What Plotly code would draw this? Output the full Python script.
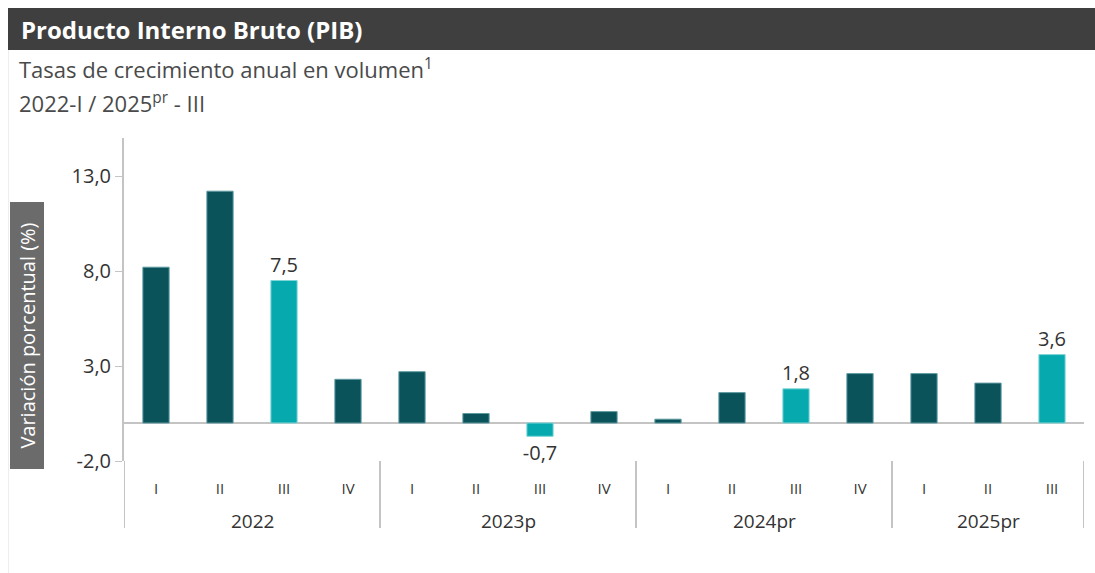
import plotly.graph_objects as go

years = ["2022"] * 4 + ["2023p"] * 4 + ["2024pr"] * 4 + ["2025pr"] * 3
quarters = ["I", "II", "III", "IV", "I", "II", "III", "IV", "I", "II", "III", "IV", "I", "II", "III"]
values = [8.2, 12.2, 7.5, 2.3, 2.7, 0.5, -0.7, 0.6, 0.2, 1.6, 1.8, 2.6, 2.6, 2.1, 3.6]
y_ticks = [-2, 3, 8, 13]
highlight_quarter = "III"

DARK = "#0a535b"
LIGHT = "#06a9ad"
colors = [LIGHT if q == highlight_quarter else DARK for q in quarters]
line_colors = ["#7fd6d9" if q == highlight_quarter else "#5f9aa0" for q in quarters]

def fmt(v):
    return f"{v:.1f}".replace(".", ",")

labels = [fmt(v) if q == highlight_quarter else "" for v, q in zip(values, quarters)]
xs = list(range(len(values)))

# year groups (first / last index)
groups = []
for i, yv in enumerate(years):
    if not groups or groups[-1][0] != yv:
        groups.append([yv, i, i])
    else:
        groups[-1][2] = i

W, H = 1095, 573
L, R, T, B = 124, 11, 138, 112
pw, ph = W - L - R, H - T - B

def px(x):
    return (x - L) / pw

def py(y):
    return (H - B - y) / ph

fig = go.Figure()
fig.add_trace(go.Bar(
    x=xs, y=values,
    marker=dict(color=colors, line=dict(color=line_colors, width=1)),
    text=labels, textposition="outside", cliponaxis=False, constraintext="none",
    textfont=dict(family="Open Sans", size=20, color="#333333"),
    width=0.41, hoverinfo="skip",
))

shapes = [
    dict(type="rect", xref="paper", yref="paper",
         x0=px(8), x1=px(W + 5), y0=py(50), y1=py(8),
         fillcolor="#3f3f3f", line=dict(width=0), layer="above"),
    dict(type="line", xref="paper", yref="paper",
         x0=px(8.5), x1=px(8.5), y0=py(50), y1=py(H),
         line=dict(color="#eeeeee", width=1)),
]
annotations = [
    dict(text="<b>Producto Interno Bruto (PIB)</b>", xref="paper", yref="paper",
         x=px(19), y=py(30), xanchor="left", yanchor="middle", showarrow=False,
         font=dict(family="Open Sans", size=24, color="white")),
    dict(text="Tasas de crecimiento anual en volumen<sup>1</sup>", xref="paper", yref="paper",
         x=px(17), y=py(69), xanchor="left", yanchor="middle", showarrow=False,
         font=dict(family="Open Sans", size=22, color="#4a4a4a")),
    dict(text="2022-I / 2025<sup>pr</sup> - III", xref="paper", yref="paper",
         x=px(17), y=py(102), xanchor="left", yanchor="middle", showarrow=False,
         font=dict(family="Open Sans", size=22, color="#4a4a4a")),
    dict(text="Variación porcentual (%)", xref="paper", yref="paper",
         x=px(26.5), y=py(336), xanchor="center", yanchor="middle", showarrow=False,
         textangle=-90, bgcolor="#6b6b6b", width=264, height=31,
         font=dict(family="Open Sans", size=20, color="white")),
]

bounds = [groups[0][1] - 0.5] + [g[2] + 0.5 for g in groups]
for b in bounds:
    shapes.append(dict(type="line", xref="x", yref="paper", x0=b, x1=b,
                       y0=py(461), y1=py(528),
                       line=dict(color="#c4c4c4", width=2)))
for name, i0, i1 in groups:
    annotations.append(dict(text=name, xref="x", yref="paper", x=(i0 + i1) / 2,
                            y=py(521), xanchor="center", yanchor="middle",
                            showarrow=False,
                            font=dict(family="Open Sans", size=19, color="#333333")))

fig.update_layout(
    width=W, height=H,
    margin=dict(l=L, r=R, t=T, b=B),
    paper_bgcolor="white", plot_bgcolor="white",
    showlegend=False,
    hovermode=False,
    font=dict(family="Open Sans", color="#333333"),
    xaxis=dict(
        range=[-0.5, len(values) - 0.5],
        tickvals=xs, ticktext=quarters,
        showline=False, showgrid=False, zeroline=False, ticks="",
        ticklabelstandoff=17,
        tickfont=dict(family="Open Sans", size=15, color="#333333"),
    ),
    yaxis=dict(
        range=[-2, 15], tickvals=y_ticks, ticktext=[fmt(v) for v in y_ticks],
        showgrid=False, showline=True, linecolor="#c4c4c4", linewidth=2,
        ticks="outside", ticklen=7, tickcolor="#c4c4c4", tickwidth=1,
        zeroline=True, zerolinecolor="#c4c4c4", zerolinewidth=2,
        tickfont=dict(family="Open Sans", size=20, color="#333333"),
    ),
    shapes=shapes,
    annotations=annotations,
)

fig.write_html("out.html",
               config={"displayModeBar": False},
               post_script="document.body.style.margin='0';document.body.style.overflow='hidden';")
